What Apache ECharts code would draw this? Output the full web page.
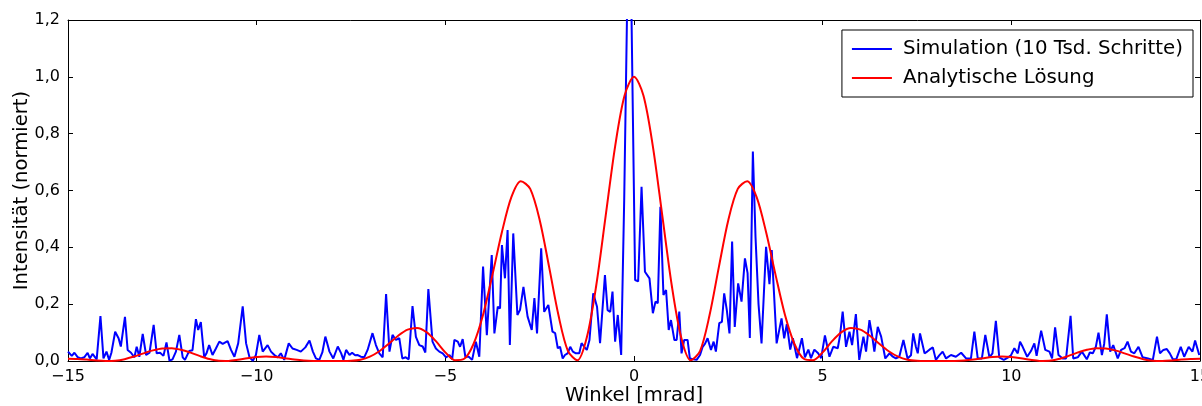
<!DOCTYPE html>
<html>
<head>
<meta charset="utf-8">
<script src="https://cdn.jsdelivr.net/npm/echarts@6/dist/echarts.min.js"></script>
<style>
html,body{margin:0;padding:0;background:#fff;}
#chart{width:1202px;height:406px;}
</style>
</head>
<body>
<div id="chart"></div>
<script>
// ---- data ----
const xTicks = [-15, -10, -5, 0, 5, 10, 15];
const yTicks = [0, 0.2, 0.4, 0.6, 0.8, 1.0, 1.2];
const seriesNames = ['Simulation (10 Tsd. Schritte)', 'Analytische Lösung'];

const simX = [
-15.00,-14.90,-14.83,-14.74,-14.66,-14.57,-14.48,-14.42,-14.35,-14.24,-14.14,-14.06,-13.98,-13.91,-13.85,-13.75,-13.66,-13.60,-13.49,-13.42,-13.33,-13.24,-13.18,-13.11,-13.02,-12.93,-12.84,-12.73,-12.65,-12.56,-12.47,
-12.39,-12.31,-12.23,-12.14,-12.05,-11.96,-11.90,-11.79,-11.70,-11.61,-11.55,-11.48,-11.39,-11.33,-11.26,-11.17,-11.08,-10.99,-10.90,-10.77,-10.68,-10.59,-10.49,-10.37,-10.28,-10.19,-10.10,-10.02,-9.93,
-9.84,-9.71,-9.62,-9.53,-9.44,-9.36,-9.27,-9.15,-9.05,-8.94,-8.83,-8.71,-8.60,-8.51,-8.43,-8.34,-8.26,-8.18,-8.07,-7.97,-7.85,-7.76,-7.70,-7.63,-7.54,-7.47,-7.39,
-7.32,-7.24,-7.15,-7.06,-6.93,-6.84,-6.75,-6.66,-6.57,-6.48,-6.40,-6.31,-6.22,-6.14,-6.05,-5.97,-5.87,-5.78,-5.69,-5.60,-5.53,-5.45,-5.34,-5.25,-5.16,-5.07,-4.98,-4.89,
-4.82,-4.76,-4.67,-4.61,-4.54,-4.47,-4.38,-4.29,-4.19,-4.10,-4.00,-3.90,-3.77,-3.70,-3.61,-3.55,-3.50,-3.42,-3.35,-3.29,-3.20,-3.09,-3.02,-2.93,-2.82,-2.71,-2.64,-2.57,-2.46,
-2.38,-2.27,-2.16,-2.09,-2.02,-1.96,-1.89,-1.83,-1.76,-1.69,-1.62,-1.54,-1.45,-1.39,-1.32,-1.25,-1.18,-1.08,-0.98,-0.90,-0.77,-0.70,-0.63,-0.57,-0.50,-0.43,-0.34,-0.26,-0.17,-0.08,0.03,
0.11,0.20,0.29,0.41,0.50,0.57,0.63,0.70,0.78,0.85,0.92,0.98,1.07,1.13,1.20,1.26,1.33,1.42,1.48,1.57,1.66,1.75,1.82,1.88,1.95,2.04,2.11,2.17,2.26,2.33,2.39,2.46,2.53,2.60,2.67,
2.76,2.85,2.94,3.01,3.07,3.15,3.22,3.30,3.38,3.50,3.59,3.65,3.78,3.91,3.98,4.05,4.14,4.21,4.32,4.45,4.53,4.62,4.69,4.78,4.88,4.96,5.06,
5.18,5.28,5.40,5.46,5.53,5.62,5.71,5.78,5.88,5.97,6.08,6.15,6.24,6.31,6.37,6.46,6.55,6.66,6.77,6.86,6.94,7.03,7.14,7.25,7.34,7.40,7.47,7.52,7.58,7.70,
7.77,7.83,7.92,8.00,8.09,8.18,8.27,8.40,8.53,8.67,8.80,8.93,9.02,9.11,9.22,9.31,9.42,9.50,9.59,9.68,9.80,9.92,9.99,10.08,10.17,10.23,
10.30,10.42,10.52,10.61,10.67,10.79,10.90,11.01,11.08,11.16,11.25,11.36,11.45,11.57,11.64,11.76,11.87,12.00,12.08,12.16,12.24,12.31,12.40,12.46,12.53,12.62,
12.70,12.82,12.91,13.00,13.08,13.17,13.26,13.37,13.48,13.62,13.75,13.86,13.94,14.03,14.12,14.20,14.28,14.37,14.49,14.58,14.70,14.80,14.87,14.98
];
const simY = [
0.033,0.018,0.029,0.013,0.009,0.013,0.029,0.009,0.025,0.006,0.158,0.009,0.033,0.004,0.029,0.103,0.080,0.051,0.155,0.039,0.029,0.013,0.050,0.015,0.095,0.021,0.029,0.127,0.027,0.029,0.018,
0.065,0.001,0.006,0.033,0.092,0.013,0.004,0.035,0.038,0.147,0.109,0.137,0.013,0.027,0.056,0.021,0.044,0.068,0.060,0.070,0.039,0.015,0.062,0.192,0.062,0.013,0.001,0.021,0.092,
0.033,0.056,0.033,0.021,0.013,0.027,0.004,0.062,0.044,0.039,0.033,0.048,0.072,0.033,0.009,0.004,0.030,0.086,0.033,0.009,0.051,0.027,0.004,0.039,0.021,0.029,0.020,
0.021,0.015,0.013,0.039,0.098,0.056,0.027,0.013,0.236,0.033,0.092,0.074,0.080,0.009,0.013,0.006,0.193,0.085,0.056,0.051,0.030,0.253,0.068,0.044,0.033,0.027,0.013,0.021,
0.006,0.074,0.068,0.050,0.077,0.015,0.015,0.004,0.068,0.015,0.332,0.091,0.373,0.097,0.191,0.185,0.408,0.291,0.461,0.056,0.449,0.162,0.180,0.261,0.156,0.109,0.221,0.097,0.397,
0.173,0.197,0.103,0.098,0.045,0.050,0.009,0.021,0.027,0.050,0.033,0.027,0.027,0.063,0.050,0.039,0.074,0.238,0.191,0.063,0.302,0.179,0.173,0.244,0.068,0.162,0.021,0.566,1.35,1.35,0.285,
0.280,0.613,0.314,0.291,0.168,0.209,0.203,0.543,0.232,0.250,0.109,0.144,0.074,0.074,0.174,0.027,0.074,0.074,0.009,0.006,0.004,0.021,0.050,0.060,0.080,0.039,0.068,0.033,0.133,0.138,0.238,0.179,0.097,0.420,0.120,
0.273,0.209,0.361,0.309,0.081,0.737,0.437,0.200,0.062,0.402,0.270,0.390,0.062,0.150,0.080,0.130,0.040,0.080,0.010,0.080,0.013,0.040,0.010,0.040,0.027,0.010,0.090,
0.015,0.050,0.045,0.090,0.174,0.050,0.103,0.056,0.165,0.004,0.086,0.033,0.144,0.090,0.033,0.120,0.086,0.009,0.027,0.015,0.009,0.015,0.074,0.009,0.020,0.097,0.050,0.027,0.097,0.027,
0.033,0.040,0.048,0.004,0.020,0.033,0.009,0.021,0.015,0.029,0.009,0.009,0.103,0.009,0.009,0.092,0.013,0.027,0.141,0.013,0.004,0.013,0.020,0.045,0.027,0.068,
0.050,0.015,0.035,0.062,0.018,0.107,0.039,0.033,0.009,0.118,0.021,0.009,0.009,0.159,0.009,0.013,0.033,0.006,0.030,0.027,0.050,0.100,0.021,0.060,0.164,0.033,
0.056,0.009,0.039,0.045,0.068,0.033,0.027,0.050,0.013,0.009,0.004,0.086,0.027,0.039,0.042,0.027,0.006,0.006,0.050,0.015,0.050,0.033,0.072,0.021
];

const anaX = [
-15,-14.75,-14.5,-14.25,-14,-13.75,-13.5,-13.25,-13,-12.75,-12.5,-12.25,-12,-11.75,-11.5,-11.25,-11,-10.75,-10.5,-10.25,-10,-9.75,-9.5,-9.25,-9,-8.75,-8.5,-8.25,-8,-7.75,-7.5,-7.25,-7,-6.75,-6.5,-6.25,-6,-5.75,-5.5,-5.25,-5,-4.75,-4.5,-4.25,-4,-3.75,-3.5,-3.25,-3,-2.75,-2.5,-2.25,-2,-1.75,-1.5,-1.25,-1,-0.75,-0.5,-0.25,
0,0.25,0.5,0.75,1,1.25,1.5,1.75,2,2.25,2.5,2.75,3,3.25,3.5,3.75,4,4.25,4.5,4.75,5,5.25,5.5,5.75,6,6.25,6.5,6.75,7,7.25,7.5,7.75,8,8.25,8.5,8.75,9,9.25,9.5,9.75,10,10.25,10.5,10.75,11,11.25,11.5,11.75,12,12.25,12.5,12.75,13,13.25,13.5,13.75,14,14.25,14.5,14.75,15
];
const anaY = [
0.0080,0.0073,0.0049,0.0019,0.0001,0.0012,0.0064,0.0156,0.0269,0.0375,0.0444,0.0453,0.0396,0.0293,0.0172,0.0069,0.0009,0.0004,0.0041,0.0098,0.0140,0.0156,0.0138,0.0097,0.0051,0.0017,0.0002,0.0000,0.0001,0.0000,0.0007,0.0047,0.0153,0.0343,0.0606,0.0890,0.1103,0.1161,0.1017,0.0698,0.0305,0.0030,0.0078,0.0607,0.1626,0.3040,0.4538,0.5766,0.6328,0.6055,0.4964,0.3313,0.1598,0.0350,0.0023,0.0832,0.2666,0.5115,0.7555,0.9344,
1.0000,0.9344,0.7555,0.5115,0.2666,0.0832,0.0023,0.0350,0.1598,0.3313,0.4964,0.6055,0.6328,0.5766,0.4538,0.3040,0.1626,0.0607,0.0078,0.0030,0.0305,0.0698,0.1017,0.1161,0.1103,0.0890,0.0606,0.0343,0.0153,0.0047,0.0007,0.0000,0.0001,0.0000,0.0002,0.0017,0.0051,0.0097,0.0138,0.0156,0.0140,0.0098,0.0041,0.0004,0.0009,0.0069,0.0172,0.0293,0.0396,0.0453,0.0444,0.0375,0.0269,0.0156,0.0064,0.0012,0.0001,0.0019,0.0049,0.0073,0.0080
];

// ---- chart ----
const FONT = 'DejaVu Sans';
const simData = simX.map((x, i) => [x, simY[i]]);
const anaData = anaX.map((x, i) => [x, anaY[i]]);
const xMin = xTicks[0], xMax = xTicks[xTicks.length - 1], xInt = xTicks[1] - xTicks[0];
const yMin = yTicks[0], yMax = yTicks[yTicks.length - 1], yInt = 0.2;

const fmtX = v => (v < 0 ? '\u2212' + Math.abs(v) : String(v));
const fmtY = v => v.toFixed(1).replace('.', ',');

const axisLine = { show: true, onZero: false, lineStyle: { color: '#000', width: 1 } };
const tick = { show: true, inside: true, length: 5, lineStyle: { color: '#000', width: 1 } };

const chart = echarts.init(document.getElementById('chart'), null, { renderer: 'canvas' });
chart.setOption({
  animation: false,
  backgroundColor: '#fff',
  textStyle: { fontFamily: FONT },
  grid: { left: 68, right: 2, top: 20, bottom: 45, containLabel: false, outerBoundsMode: 'none' },
  legend: {
    data: seriesNames.map(n => ({ name: n, icon: 'rect' })),
    orient: 'vertical',
    right: 9,
    top: 30,
    padding: [9, 10, 9, 10],
    itemGap: 9,
    itemWidth: 40,
    itemHeight: 2,
    borderColor: '#000',
    borderWidth: 1,
    borderRadius: 0,
    backgroundColor: '#fff',
    textStyle: { fontFamily: FONT, fontSize: 19.8, lineHeight: 20, color: '#000', padding: [0, 0, 0, 6] }
  },
  xAxis: [
    {
      type: 'value', min: xMin, max: xMax, interval: xInt, position: 'bottom',
      name: 'Winkel [mrad]', nameLocation: 'middle', nameGap: 25, nameMoveOverlap: false,
      nameTextStyle: { fontFamily: FONT, fontSize: 19.6, color: '#000' },
      axisLine, axisTick: tick, splitLine: { show: false },
      axisLabel: { formatter: fmtX, fontFamily: FONT, fontSize: 16, color: '#000', margin: 8 }
    },
    {
      type: 'value', min: xMin, max: xMax, interval: xInt, position: 'top',
      axisLine, axisTick: tick, splitLine: { show: false }, axisLabel: { show: false }
    }
  ],
  yAxis: [
    {
      type: 'value', min: yMin, max: yMax, interval: yInt, position: 'left',
      name: 'Intensität (normiert)', nameLocation: 'middle', nameGap: 36, nameRotate: 90, nameMoveOverlap: false,
      nameTextStyle: { fontFamily: FONT, fontSize: 19.6, color: '#000' },
      axisLine, axisTick: tick, splitLine: { show: false },
      axisLabel: { formatter: fmtY, fontFamily: FONT, fontSize: 16, color: '#000', margin: 8 }
    },
    {
      type: 'value', min: yMin, max: yMax, interval: yInt, position: 'right',
      axisLine, axisTick: tick, splitLine: { show: false }, axisLabel: { show: false }
    }
  ],
  series: [
    {
      name: seriesNames[0], type: 'line', xAxisIndex: 0, yAxisIndex: 0,
      data: simData, symbol: 'none', showSymbol: false, clip: true,
      lineStyle: { color: '#0000ff', width: 2 }, itemStyle: { color: '#0000ff' }
    },
    {
      name: seriesNames[1], type: 'line', xAxisIndex: 0, yAxisIndex: 0,
      data: anaData, symbol: 'none', showSymbol: false, smooth: 0.3, clip: true,
      lineStyle: { color: '#ff0000', width: 2 }, itemStyle: { color: '#ff0000' }
    }
  ]
});
</script>
</body>
</html>
